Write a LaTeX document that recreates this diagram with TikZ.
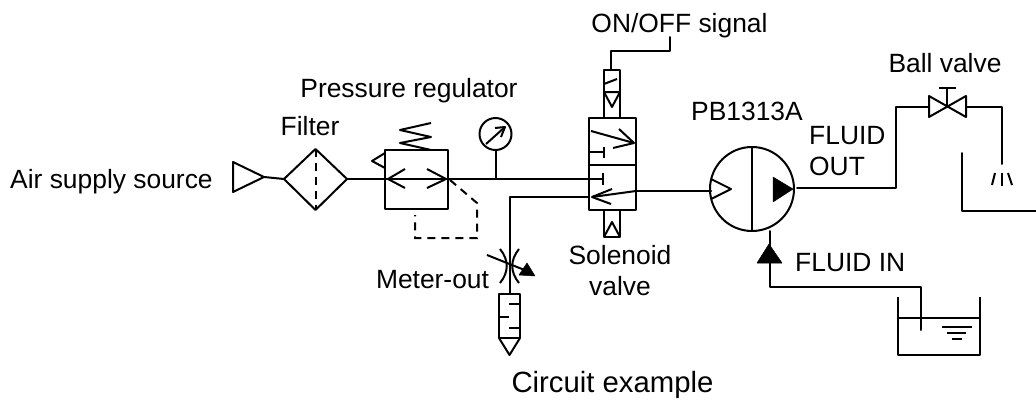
\documentclass[tikz,border=0pt]{standalone}
\usepackage{fontspec}
\setmainfont{Liberation Sans}
\usepackage{xcolor}
\usepackage{tikz}
\usetikzlibrary{calc}
\definecolor{ink}{HTML}{000000}
\tikzset{
  pipe/.style={draw=ink, line width=2pt, line cap=round, line join=round},
  part/.style={draw=ink, line width=2pt, line join=round},
  pilot/.style={draw=ink, dash pattern=on 8pt off 6pt, line width=2pt},
  solid tip/.style={fill=ink, draw=ink, line width=0.5pt, line join=round},
  lab/.style={text=ink, font=\fontsize{26.4}{30}\selectfont, inner sep=0pt, anchor=base},
  labbig/.style={text=ink, font=\fontsize{29.3}{33}\selectfont, inner sep=0pt, anchor=base}
}
\begin{document}
\begin{tikzpicture}[x=1pt,y=-1pt]
  \useasboundingbox (0,0) rectangle (1036,399);
  \coordinate (supply) at (264,177);
  \coordinate (filterL) at (284,179);
  \coordinate (filterT) at (315.5,149);
  \coordinate (filterR) at (347,179);
  \coordinate (filterB) at (315.5,210);
  \coordinate (valveTL) at (589,118);
  \coordinate (valveBR) at (636,210);
  \coordinate (pumpC) at (752,189);
  % air source and filter
  \draw[part] (233,162) -- (supply) -- (233,192) -- cycle;
  \draw[pipe] (supply) -- (filterL);
  \draw[part] (filterL) -- (filterT) -- (filterR) -- (filterB) -- cycle;
  \draw[pilot] (filterT) -- (filterB);
  % regulator
  \draw[part] (385,150) rectangle (448,209);
  \draw[part] (385,153) -- (372,161) -- (385,168);
  \draw[part] (431,123) -- (400,130) -- (431,137) -- (400,143) -- (431,150);
  \draw[pipe] (filterR) -- (603,179);
  \draw[part] (405,169) -- (388,179) -- (405,188);
  \draw[part] (427,169) -- (446,179) -- (427,188);
  \draw[pilot] (450,180) -- (477,203) -- (477,238) -- (415,238) -- (415,215);
  % gauge
  \draw[part] (495.5,134) circle (16);
  \draw[pipe] (495.5,150) -- (495.5,179);
  \draw[part] (486,144) -- (505,127);
  \draw[part] (495,128) -- (505,127) -- (501,137);
  % solenoid valve
  \draw[part] (valveTL) rectangle (valveBR);
  \draw[part] (589,165) -- (636,165);
  \draw[part] (604,70) rectangle (620,118);
  \draw[part] (604,92) -- (620,92) -- (612,107) -- cycle;
  \draw[part] (604,84) -- (617,79);
  \draw[pipe] (611,70) -- (611,51) -- (670,51) -- (670,37);
  \draw[part] (604,210) rectangle (620,237);
  \draw[part] (604,237) -- (612,222) -- (620,237);
  \draw[part] (591,131) -- (634,143);
  \draw[part] (619,129) -- (634,143) -- (613,148);
  \draw[part] (589,152) -- (604,152);
  \draw[part] (604,147) -- (604,158);
  \draw[part] (603,173) -- (603,185);
  \draw[part] (636,191) -- (592,197);
  \draw[part] (612,189) -- (592,197) -- (611,204);
  \draw[pipe] (636,191) -- (711,191);
  % meter-out line and cylinder
  \draw[pipe] (589,197) -- (510,197) -- (510,294);
  \draw[part] (500,249) .. controls (509,260) and (509,272) .. (500,283);
  \draw[part] (519,249) .. controls (510,260) and (510,272) .. (519,283);
  \draw[part] (487,255) -- (527,271);
  \draw[solid tip] (535,276) -- (527,263) -- (519,275) -- cycle;
  \draw[part] (499,294) rectangle (520,338);
  \draw[part] (520,304) -- (509,304);
  \draw[part] (499,317) -- (509,317);
  \draw[part] (520,328) -- (509,328);
  \draw[part] (499,338) -- (509.5,355) -- (520,338);
  % pump
  \draw[part] (pumpC) circle (42);
  \draw[part] (752,147) -- (752,231);
  \draw[part] (711,179) -- (731,189) -- (711,199);
  \draw[solid tip] (773,177) -- (793,189) -- (773,202) -- cycle;
  % fluid out and ball valve
  \draw[pipe] (797,188) -- (896,188) -- (896,107) -- (929,107);
  \draw[part] (929,96) -- (966,117) -- (966,96) -- (929,117) -- cycle;
  \draw[part] (947,107) -- (947,88);
  \draw[part] (939,88) -- (956,88);
  \draw[pipe] (966,107) -- (1002,107) -- (1002,164);
  \draw[part] (1002,173) -- (1002,186);
  \draw[part] (995,173) -- (992,185);
  \draw[part] (1008,173) -- (1012,185);
  \draw[pipe] (962,153) -- (962,211) -- (1036,211);
  % fluid in and tank
  \draw[pipe] (770,231) -- (770,287) -- (921,287) -- (921,330);
  \draw[solid tip] (769,244) -- (757,263) -- (782,263) -- cycle;
  \draw[part] (898,297) -- (898,355) -- (980,355) -- (980,297);
  \draw[part] (898,318) -- (980,318);
  \draw[part] (942,327) -- (972,327);
  \draw[part] (947,333) -- (966,333);
  \draw[part] (952,339) -- (962,339);
  % labels
  \node[lab,anchor=base west] (air) at (10,188) {Air supply source};
  \node[lab] (filter) at (310,135) {Filter};
  \node[lab] (regulator) at (409,97) {Pressure regulator};
  \node[lab] (signal) at (679.5,32) {ON/OFF signal};
  \node[lab] (model) at (747,120) {PB1313A};
  \node[lab,anchor=base west] (fluidout) at (809,144) {FLUID};
  \node[lab,anchor=base west] (out) at (809,175) {OUT};
  \node[lab] (ball) at (945,72) {Ball valve};
  \node[lab] (meter) at (432.5,288) {Meter-out};
  \node[lab] (solenoid) at (620,264) {Solenoid};
  \node[lab] (valve) at (620,295) {valve};
  \node[lab,anchor=base west] (fluidin) at (795,271) {FLUID IN};
  \node[labbig] (caption) at (612.5,392.5) {Circuit example};
\end{tikzpicture}
\end{document}
